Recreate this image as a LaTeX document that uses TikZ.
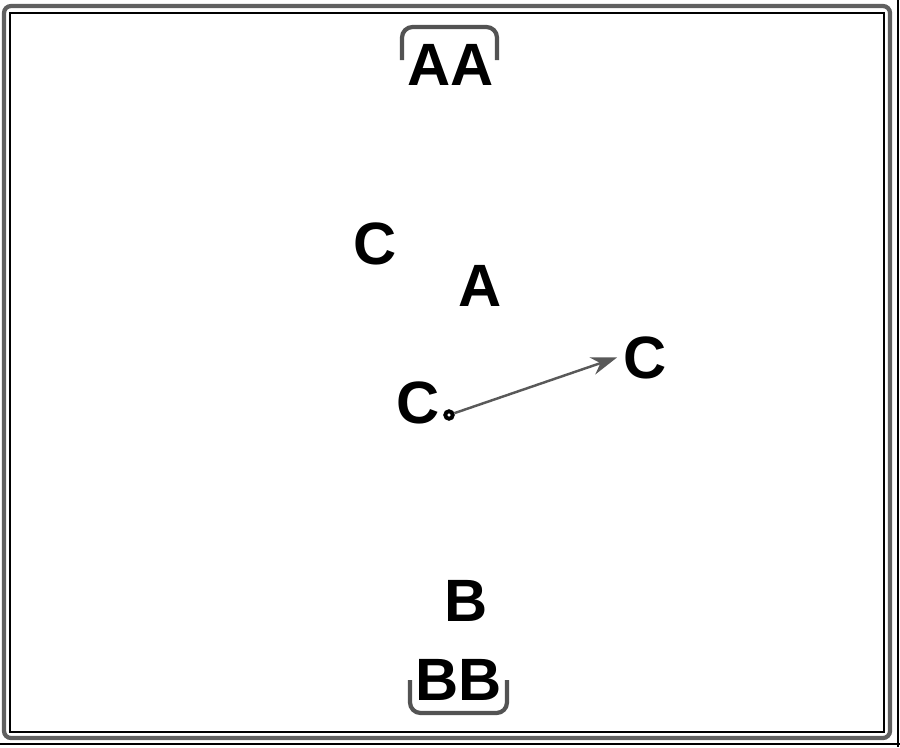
\documentclass[tikz,border=0pt]{standalone}
\usepackage{fontspec}
\setmainfont{Liberation Sans}
\usetikzlibrary{arrows.meta}

\begin{document}
\begin{tikzpicture}[x=0.1mm,y=-0.1mm,
  letter/.style={font=\fontsize{17}{20}\selectfont\bfseries,inner sep=0pt},
  frame/.style={line width=1.2pt,draw=gray!75!black,rounded corners=2pt},
  bracket/.style={line width=1.2pt,draw=gray!65!black,rounded corners=3pt},
  dot/.style={circle,draw,fill=white,line width=1.1pt,inner sep=0pt,minimum size=0.75mm},
  arrow/.style={-{Stealth[length=2.6mm,width=1.8mm]},gray!70!black,line width=0.7pt}
  ]
  \useasboundingbox (0,0) rectangle (900,747);

  % frame
  \draw[frame] (4,6) rectangle (890,738);
  \draw[line width=0.35pt] (10,13) rectangle (884,732);
  \draw[line width=0.35pt] (898,0) -- (898,747);
  \draw[line width=0.35pt] (0,744) -- (900,744);

  \node[letter] (aa) at (451,65) {AA};
  \node[letter] (c1) at (375,244) {C};
  \node[letter] (a) at (480,286) {A};
  \node[letter] (c2) at (418,403) {C};
  \node[dot] (pt) at (449,415) {};
  \node[letter] (c3) at (645,358) {C};
  \node[letter] (b) at (466,601) {B};
  \node[letter] (bb) at (459,680) {BB};

  % brackets
  \draw[bracket] (402,60) -- (402,27) -- (497,27) -- (497,60);
  \draw[bracket] (410,680) -- (410,713) -- (507,713) -- (507,680);

  \draw[arrow,shorten >=0.6mm] (pt) -- ([yshift=0.25mm]c3.west);
\end{tikzpicture}
\end{document}
